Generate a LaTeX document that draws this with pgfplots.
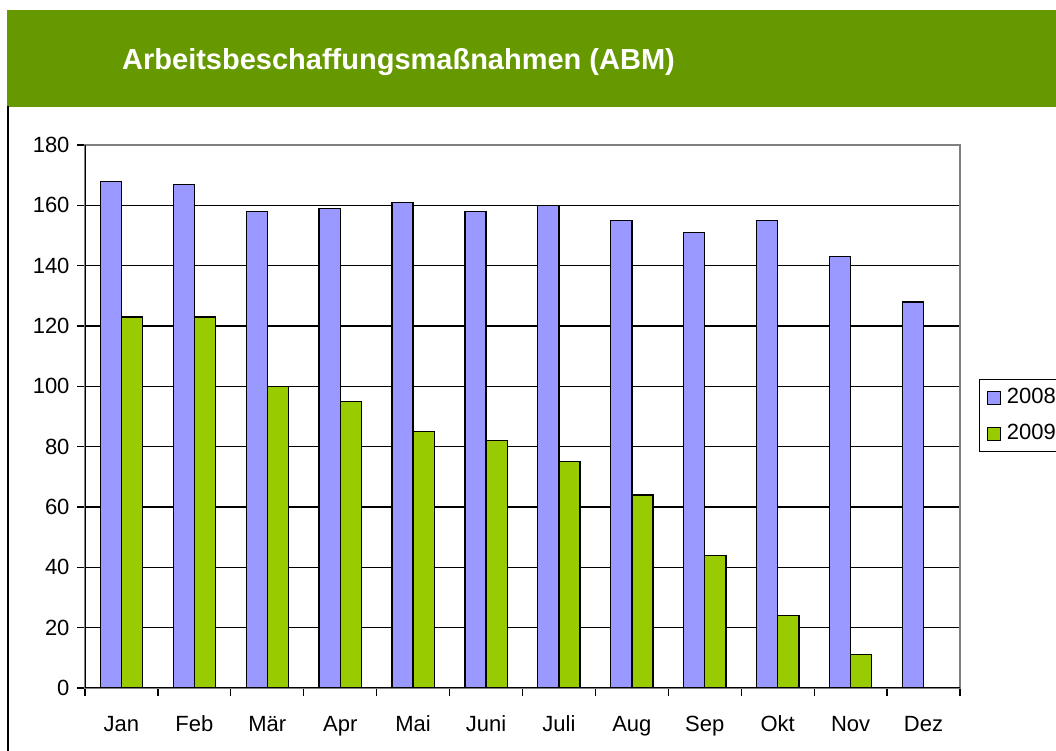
\documentclass[border=0pt]{standalone}
\usepackage{pgfplots}
\pgfplotsset{compat=1.18}
\usepackage{fontspec}
\setmainfont{Liberation Sans}
\definecolor{hdr}{RGB}{102,153,0}
\definecolor{cA}{RGB}{153,153,255}
\definecolor{cB}{RGB}{153,204,0}
\definecolor{axgray}{RGB}{128,128,128}
\begin{document}
\begin{tikzpicture}[x=1bp,y=1bp]
\useasboundingbox (0,0) rectangle (1056,751);
\begin{scope}
\clip (0,0) rectangle (1056,751);
\fill[hdr] (7,644) rectangle (1060,741);
\draw[black, line width=2bp] (8,645) -- (8,-2);
\node[anchor=base west, inner sep=0, text=white, font=\fontsize{29bp}{34bp}\selectfont\bfseries] at (122,681) {Arbeitsbeschaffungsmaßnahmen (ABM)};
\begin{axis}[
  at={(85bp,63bp)}, anchor=south west,
  width=875bp, height=543bp, scale only axis,
  xmin=-0.5, xmax=11.5, ymin=0, ymax=180,
  ybar, bar width=0.29,
  xtick={0,...,11},
  xticklabels={Jan,Feb,Mär,Apr,Mai,Juni,Juli,Aug,Sep,Okt,Nov,Dez},
  minor xtick={-0.5,0.5,...,11.5},
  ytick={0,20,...,180},
  ymajorgrids, major grid style={black, line width=1.3bp},
  tick align=outside, xtick pos=bottom, ytick pos=left,
  major tick length=8bp, minor tick length=8bp,
  major x tick style={draw=none},
  tick style={black, line width=1.3bp},
  axis line style={draw=axgray, line width=1.5bp},
  ticklabel style={font=\fontsize{22bp}{26bp}\selectfont},
  /pgf/number format/assume math mode=true,
  yticklabel style={xshift=-4bp},
  xticklabel style={anchor=north, text height=16bp, text depth=5bp, yshift=-16bp},
  legend style={at={(1.0217,0.569)}, anchor=north west, draw=black, line width=1.3bp,
    font=\fontsize{22bp}{26bp}\selectfont, inner xsep=7bp, inner ysep=8bp,
    row sep=16bp, legend cell align=left,
    nodes={inner sep=0pt, text height=16bp, text depth=4bp},
    /tikz/every odd column/.append style={column sep=6bp}},
  legend image code/.code={\draw[#1, line width=1.3bp] (0bp,-6.5bp) rectangle (13bp,6.5bp);},
]
\addplot[fill=cA, draw=black, line width=1.3bp, bar shift=-0.145] coordinates {
(0,168) (1,167) (2,158) (3,159) (4,161) (5,158) (6,160) (7,155) (8,151) (9,155) (10,143) (11,128)};
\addplot[fill=cB, draw=black, line width=1.3bp, bar shift=0.145] coordinates {
(0,123) (1,123) (2,100) (3,95) (4,85) (5,82) (6,75) (7,64) (8,44) (9,24) (10,11)};
\legend{2008,2009}
\draw[black, line width=2bp] (rel axis cs:0,1) -- (rel axis cs:0,0) -- (rel axis cs:1,0);
\end{axis}
\end{scope}
\end{tikzpicture}
\end{document}
